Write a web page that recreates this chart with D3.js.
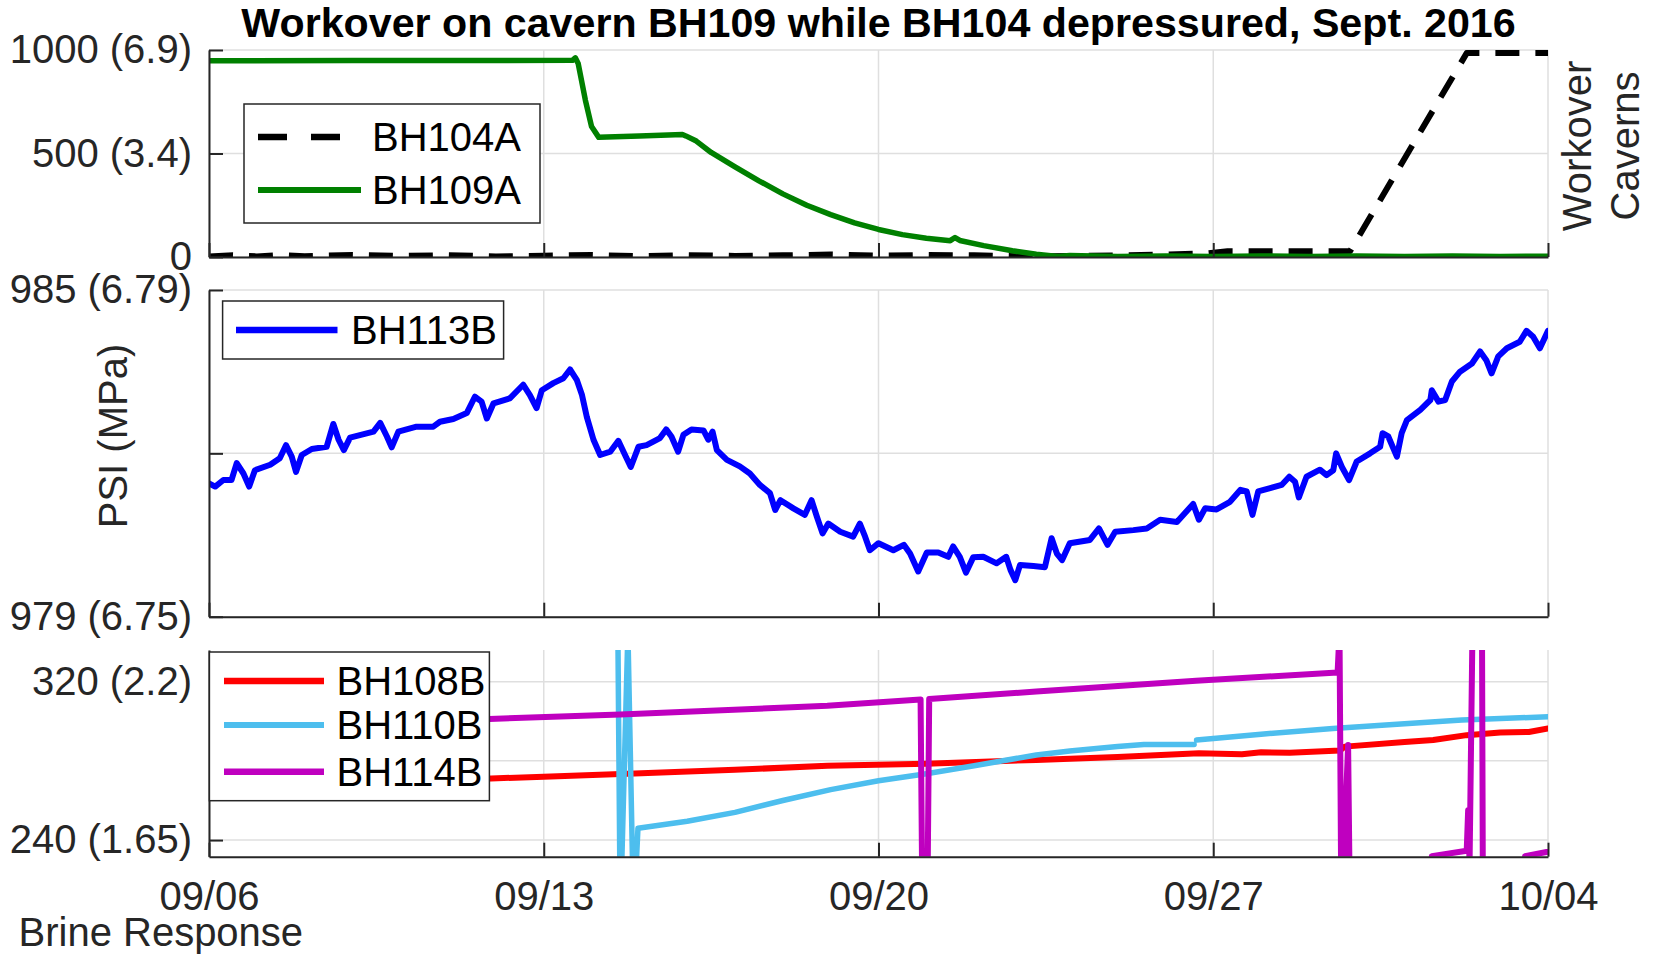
<!DOCTYPE html>
<html>
<head>
<meta charset="utf-8">
<script src="https://cdn.jsdelivr.net/npm/d3@7"></script>
<style>
  body { margin: 0; background: #fff; }
  text { font-family: "Liberation Sans", Helvetica, Arial, sans-serif; }
</style>
</head>
<body>
<svg id="chart" width="1654" height="956"></svg>
<script>
// days are counted from 09/06/2016 00:00
const xTickDays = [0, 7, 14, 21, 28];

const topTicks = [0, 500, 1000];
const topTickLabels = ["0", "500 (3.4)", "1000 (6.9)"];
const midTicks = [979, 982, 985];
const midTickLabels = ["979 (6.75)", "", "985 (6.79)"];
const botTicks = [240, 280, 320];
const botTickLabels = ["240 (1.65)", "", "320 (2.2)"];

// workover caverns
const bh104a = [[0,2],[0.5,8],[1,3],[1.5,9],[2,4],[3,10],[4,5],[5,9],[6,3],[7,6],[8,10],[9,4],[10,9],
  [11,5],[12,8],[13,12],[14,6],[15,10],[16,8],[17,3],[18,5],[19,8],[20,12],[20.9,18],[21.3,28],
  [23.86,28],[26.3,985],[28,985]];
const bh109a = [[0,948],[3,949],[7.6,950],[7.66,962],[7.72,935],[7.87,758],[8.0,630],[8.15,578],
  [9,584],[9.9,592],[9.97,585],[10.19,560],[10.5,505],[11,435],[11.5,368],[12,305],[12.5,250],
  [13,205],[13.5,165],[14,133],[14.5,108],[15,91],[15.5,79],[15.6,94],[15.7,80],[16.2,55],
  [16.8,30],[17.3,13],[17.75,2],[18,7],[19,3],[20,5],[21,3],[22,5],[23,3],[24,5],[25,3],
  [26,5],[27,3],[28,4]];

// BH113B
const bh113b = [[0,981.45],[0.13,981.39],[0.30,981.51],[0.47,981.51],[0.58,981.82],[0.72,981.63],
  [0.84,981.39],[0.96,981.69],[1.28,981.79],[1.48,981.91],[1.61,982.15],[1.73,981.94],[1.82,981.66],
  [1.94,981.97],[2.15,982.08],[2.46,982.12],[2.60,982.54],[2.71,982.25],[2.82,982.06],[2.95,982.29],
  [3.44,982.40],[3.58,982.56],[3.72,982.31],[3.82,982.11],[3.96,982.40],[4.34,982.49],[4.69,982.49],
  [4.83,982.58],[5.11,982.63],[5.39,982.74],[5.56,983.04],[5.70,982.95],[5.81,982.64],[5.95,982.92],
  [6.29,983.01],[6.57,983.26],[6.71,983.07],[6.85,982.83],[6.96,983.16],[7.20,983.29],[7.41,983.38],
  [7.55,983.54],[7.69,983.35],[7.80,983.07],[7.90,982.67],[8.04,982.25],[8.18,981.97],[8.39,982.03],
  [8.56,982.23],[8.70,981.97],[8.82,981.75],[8.98,982.12],[9.15,982.15],[9.43,982.28],[9.56,982.44],
  [9.67,982.31],[9.81,982.03],[9.92,982.34],[10.09,982.44],[10.34,982.42],[10.44,982.25],[10.53,982.40],
  [10.62,982.06],[10.83,981.88],[11.10,981.76],[11.31,981.63],[11.52,981.42],[11.73,981.27],
  [11.84,980.96],[11.95,981.14],[12.22,980.99],[12.46,980.87],[12.60,981.14],[12.71,980.84],
  [12.83,980.53],[12.95,980.71],[13.20,980.56],[13.47,980.47],[13.61,980.71],[13.72,980.47],
  [13.82,980.22],[14.0,980.35],[14.31,980.22],[14.53,980.32],[14.66,980.16],[14.83,979.83],
  [15.01,980.18],[15.25,980.18],[15.46,980.10],[15.56,980.29],[15.70,980.10],[15.83,979.81],
  [15.98,980.09],[16.19,980.10],[16.47,979.98],[16.67,980.10],[16.76,979.86],[16.86,979.67],
  [16.96,979.95],[17.24,979.93],[17.48,979.91],[17.62,980.44],[17.73,980.16],[17.84,980.04],
  [18.00,980.35],[18.42,980.41],[18.61,980.62],[18.79,980.32],[18.95,980.56],[19.33,980.59],
  [19.61,980.62],[19.89,980.78],[20.24,980.74],[20.58,981.07],[20.70,980.78],[20.83,980.99],
  [21.07,980.97],[21.35,981.11],[21.57,981.33],[21.70,981.30],[21.82,980.87],[21.94,981.30],
  [22.19,981.36],[22.43,981.42],[22.59,981.57],[22.71,981.48],[22.79,981.19],[22.95,981.57],
  [23.23,981.70],[23.37,981.60],[23.51,981.69],[23.57,982.00],[23.69,981.75],[23.84,981.51],
  [24.00,981.85],[24.28,982.00],[24.49,982.12],[24.54,982.37],[24.66,982.31],[24.84,981.94],
  [24.94,982.37],[25.05,982.61],[25.33,982.80],[25.54,982.98],[25.57,983.16],[25.71,982.95],
  [25.85,982.98],[25.99,983.32],[26.16,983.50],[26.41,983.65],[26.58,983.87],[26.71,983.71],
  [26.82,983.47],[26.96,983.78],[27.14,983.93],[27.41,984.05],[27.55,984.25],[27.69,984.14],
  [27.83,983.93],[28.0,984.25]];

// brine response
const bh108b = [[0,269.3],[2,269.8],[4,270.5],[5.9,271.1],[7,272],[8.9,273.6],[11,275.5],
  [12.93,277.5],[15,278.6],[17.3,280.5],[19,282],[20.7,283.8],[21.6,283.4],[22,284.3],
  [22.6,284.1],[23.65,285.3],[23.75,287.2],[25,289.5],[25.6,290.5],[26.3,293],[27,294.3],
  [27.6,294.6],[28,296.4]];
const bh110b = [[8.55,345],[8.60,200],[8.76,345],[8.88,200],[8.97,246],[10,249.5],[11,254],
  [12,260],[13,265.5],[14,270],[15,273.5],[16,277.5],[17.3,283],[18,285],[19,287.3],
  [19.55,288.3],[20.6,288.3],[20.62,null],[20.65,290.5],[22,293.5],[23.5,296.4],[25,298.8],
  [26.2,300.6],[28,302.3]];
const bh114b = [[0,299.8],[5.86,301.2],[8.6,303.4],[12.93,307.8],[14.88,311],[14.92,200],
  [15.02,200],[15.06,311.2],[17.3,315],[20.64,320.5],[23.6,324.6],[23.64,345],[23.68,200],
  [23.82,288],[23.86,200],[25.55,200],[25.57,231.9],[26.3,234.6],[26.33,255],[26.36,228],
  [26.42,345],[26.62,345],[26.64,200],[27.5,200],[27.52,231.9],[27.97,234]];

const startDay = new Date(2016, 8, 6);
const dayToDate = (d) => new Date(startDay.getTime() + d * 864e5);

const svg = d3.select("#chart");
const axisColor = "#262626";
const fontSize = 40;

const x = d3.scaleTime()
  .domain([dayToDate(0), dayToDate(28)])
  .range([209, 1548]);

function drawPanel(p) {
  const g = svg.append("g").attr("class", "panel-" + p.id);
  const y = d3.scaleLinear().domain(p.domain).range([p.bottom, p.top]);

  // grid
  g.selectAll("line.hgrid")
    .data(p.ticks)
    .enter().append("line")
    .attr("class", "hgrid")
    .attr("x1", x.range()[0]).attr("x2", x.range()[1])
    .attr("y1", (d) => y(d)).attr("y2", (d) => y(d))
    .style("stroke", "#dfdfdf").style("stroke-width", 1.5);
  g.selectAll("line.vgrid")
    .data(xTickDays)
    .enter().append("line")
    .attr("class", "vgrid")
    .attr("x1", (d) => x(dayToDate(d))).attr("x2", (d) => x(dayToDate(d)))
    .attr("y1", p.top).attr("y2", p.bottom)
    .style("stroke", "#dfdfdf").style("stroke-width", 1.5);

  // data
  g.append("clipPath").attr("id", "clip-" + p.id)
    .append("rect")
    .attr("x", x.range()[0]).attr("y", p.top)
    .attr("width", x.range()[1] - x.range()[0]).attr("height", p.bottom - p.top);

  const line = d3.line()
    .defined((d) => d[1] !== null)
    .x((d) => x(dayToDate(d[0])))
    .y((d) => y(d[1]));

  p.series.forEach(function(s) {
    g.append("path")
      .datum(s.data)
      .attr("clip-path", "url(#clip-" + p.id + ")")
      .attr("d", line)
      .style("fill", "none")
      .style("stroke", s.color)
      .style("stroke-width", s.width)
      .style("stroke-linejoin", "round")
      .style("stroke-linecap", s.dash ? "butt" : "round")
      .style("stroke-dasharray", s.dash || null);
  });

  // axes
  const yAxis = d3.axisLeft(y)
    .tickValues(p.ticks)
    .tickFormat((d, i) => p.tickLabels[i])
    .tickSizeInner(-14).tickSizeOuter(0).tickPadding(17);
  const yg = g.append("g")
    .attr("transform", "translate(" + x.range()[0] + ",0)")
    .call(yAxis);

  const xAxis = d3.axisBottom(x)
    .tickValues(xTickDays.map(dayToDate))
    .tickFormat(p.xLabels ? d3.timeFormat("%m/%d") : () => "")
    .tickSizeInner(-14).tickSizeOuter(0).tickPadding(25);
  const xg = g.append("g")
    .attr("transform", "translate(0," + p.bottom + ")")
    .call(xAxis);

  [yg, xg].forEach(function(a) {
    a.attr("color", axisColor)
      .attr("font-size", fontSize)
      .attr("font-family", '"Liberation Sans", Helvetica, Arial, sans-serif');
    a.selectAll("path.domain").style("stroke-width", 2);
    a.selectAll(".tick line").style("stroke-width", 2);
  });

  // legend
  const lg = g.append("g").attr("class", "legend");
  lg.append("rect")
    .attr("x", p.legend.x).attr("y", p.legend.y)
    .attr("width", p.legend.w).attr("height", p.legend.h)
    .style("fill", "#fff").style("stroke", axisColor).style("stroke-width", 1.5);
  p.series.forEach(function(s, i) {
    const ly = p.legend.rows[i];
    lg.append("line")
      .attr("x1", p.legend.lx1).attr("x2", p.legend.lx2)
      .attr("y1", ly).attr("y2", ly)
      .style("stroke", s.color)
      .style("stroke-width", s.width + 0.5)
      .style("stroke-dasharray", s.dash ? "29,24" : null);
    lg.append("text")
      .attr("x", p.legend.tx).attr("y", ly)
      .attr("dy", "0.36em")
      .style("font-size", fontSize + "px")
      .style("fill", "#000")
      .text(s.name);
  });
}

drawPanel({
  id: "top", top: 50, bottom: 257, domain: [0, 1000],
  ticks: topTicks, tickLabels: topTickLabels, xLabels: false,
  series: [
    {name: "BH104A", data: bh104a, color: "#000000", width: 6, dash: "24,16"},
    {name: "BH109A", data: bh109a, color: "#008000", width: 5.5}
  ],
  legend: {x: 244, y: 104, w: 296, h: 119, rows: [137, 190], lx1: 258, lx2: 361, tx: 372}
});

drawPanel({
  id: "mid", top: 290, bottom: 616.7, domain: [979, 985],
  ticks: midTicks, tickLabels: midTickLabels, xLabels: false,
  series: [
    {name: "BH113B", data: bh113b, color: "#0000ff", width: 6}
  ],
  legend: {x: 222.6, y: 301, w: 281, h: 58, rows: [330], lx1: 236, lx2: 337.5, tx: 351}
});

drawPanel({
  id: "bot", top: 650, bottom: 856.7, domain: [231.6, 336],
  ticks: botTicks, tickLabels: botTickLabels, xLabels: true,
  series: [
    {name: "BH108B", data: bh108b, color: "#ff0000", width: 6},
    {name: "BH110B", data: bh110b, color: "#4dbeee", width: 5.5},
    {name: "BH114B", data: bh114b, color: "#bf00bf", width: 6}
  ],
  legend: {x: 209.4, y: 652, w: 280, h: 148.7, rows: [681, 725, 771.7], lx1: 224, lx2: 324, tx: 336.5}
});

// title and labels
svg.append("text")
  .attr("x", 878.5).attr("y", 37)
  .attr("text-anchor", "middle")
  .style("font-size", "41.2px").style("font-weight", "bold").style("fill", "#000")
  .text("Workover on cavern BH109 while BH104 depressured, Sept. 2016");

svg.append("text")
  .attr("transform", "translate(127,436) rotate(-90)")
  .attr("text-anchor", "middle")
  .style("font-size", fontSize + "px").style("fill", axisColor)
  .text("PSI (MPa)");

svg.selectAll("text.rlabel")
  .data(["Workover", "Caverns"])
  .enter().append("text")
  .attr("class", "rlabel")
  .attr("transform", (d, i) => "translate(" + (1591 + i * 48) + ",146) rotate(-90)")
  .attr("text-anchor", "middle")
  .style("font-size", fontSize + "px").style("fill", axisColor)
  .text((d) => d);

svg.append("text")
  .attr("x", 18.5).attr("y", 946)
  .style("font-size", fontSize + "px").style("fill", axisColor)
  .text("Brine Response");
</script>
</body>
</html>
